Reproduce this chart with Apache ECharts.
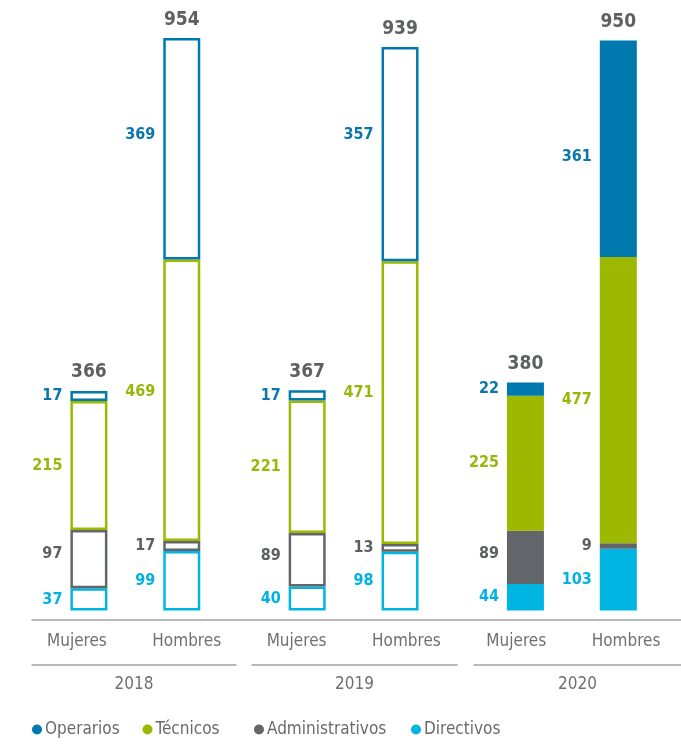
<!DOCTYPE html>
<html>
<head>
<meta charset="utf-8">
<script src="https://cdn.jsdelivr.net/npm/echarts@6/dist/echarts.min.js"></script>
<style>
  html, body { margin: 0; padding: 0; background: #fff; }
  #chart { width: 681px; height: 745px; }
</style>
</head>
<body>
<div id="chart"></div>
<script>
var years = ['2018', '2019', '2020'];
var genders = ['Mujeres', 'Hombres'];
var categories = ['Operarios', 'Técnicos', 'Administrativos', 'Directivos'];

// values per year (2018, 2019, 2020)
var operariosM = [17, 17, 22];
var operariosH = [369, 357, 361];
var tecnicosM = [215, 221, 225];
var tecnicosH = [469, 471, 477];
var adminM = [97, 89, 89];
var adminH = [17, 13, 9];
var directivosM = [37, 40, 44];
var directivosH = [99, 98, 103];
var totalM = [366, 367, 380];
var totalH = [954, 939, 950];

// vertical nudges of some value labels (px), as placed in the original
var shiftOperariosH = [-14, -19, 8];
var shiftTecnicosH = [-8, -10, 0];
var shiftAdminM = [-5, -4, -4];

var font = "'DejaVu Sans Condensed', 'Liberation Sans', sans-serif";
var barColors = {
  'Operarios': '#0079ae',
  'Técnicos': '#9cb800',
  'Administrativos': '#626569',
  'Directivos': '#00b5e2'
};
var labelColors = {
  'Operarios': '#0a76ab',
  'Técnicos': '#9ab60a',
  'Administrativos': '#5d5f62',
  'Directivos': '#00b2e2'
};
var outlined = [true, true, false];

function stackSeries(name, values, stack, shifts) {
  var c = barColors[name];
  var data = [];
  for (var i = 0; i < values.length; i++) {
    var item = { value: values[i] };
    if (outlined[i]) {
      item.itemStyle = { color: '#fff', borderColor: c, borderWidth: 2.5 };
    }
    if (shifts && shifts[i]) {
      item.label = { offset: [0, shifts[i]] };
    }
    data.push(item);
  }
  return {
    name: name,
    type: 'bar',
    stack: stack,
    barWidth: 37,
    barGap: '151%',
    xAxisIndex: 0,
    yAxisIndex: 0,
    itemStyle: { color: c },
    label: {
      show: true,
      position: 'left',
      distance: 8,
      color: labelColors[name],
      fontFamily: font,
      fontSize: 16,
      fontWeight: 'bold'
    },
    emphasis: { disabled: true },
    data: data
  };
}

function totalSeries(totals, stack) {
  return {
    name: 'total' + stack,
    type: 'bar',
    stack: stack,
    barWidth: 37,
    barGap: '151%',
    silent: true,
    itemStyle: { color: 'rgba(0,0,0,0)' },
    label: {
      show: true,
      position: 'top',
      distance: 9,
      color: '#5f6062',
      fontFamily: font,
      fontSize: 19,
      fontWeight: 'bold',
      formatter: function (p) { return totals[p.dataIndex]; }
    },
    data: [0, 0, 0]
  };
}

var series = [
  stackSeries('Directivos', directivosM, 'M'),
  stackSeries('Directivos', directivosH, 'H'),
  stackSeries('Administrativos', adminM, 'M', shiftAdminM),
  stackSeries('Administrativos', adminH, 'H'),
  stackSeries('Técnicos', tecnicosM, 'M'),
  stackSeries('Técnicos', tecnicosH, 'H', shiftTecnicosH),
  stackSeries('Operarios', operariosM, 'M'),
  stackSeries('Operarios', operariosH, 'H', shiftOperariosH),
  totalSeries(totalM, 'M'),
  totalSeries(totalH, 'H')
];

var genderLabels = [];
for (var y = 0; y < years.length; y++) {
  for (var g = 0; g < genders.length; g++) genderLabels.push(genders[g]);
}

var lineStyle = { color: '#a3a3a3', width: 1.5 };
var yearSegments = [[32, 445], [252, 224], [474, 0]];

var grids = [
  { left: 26.2, right: -10.2, top: 10.5, bottom: 134.5 },   // bars
  { left: 32, right: 0, top: 600, bottom: 125 },            // top axis line
  { left: 22, right: -2, top: 600, bottom: 125 }            // Mujeres / Hombres labels
];
var xAxes = [
  { type: 'category', gridIndex: 0, data: years, show: false },
  { type: 'category', gridIndex: 1, data: [''], axisLine: { lineStyle: lineStyle },
    axisTick: { show: false }, axisLabel: { show: false } },
  { type: 'category', gridIndex: 2, data: genderLabels, axisLine: { show: false },
    axisTick: { show: false },
    axisLabel: { margin: 13, color: '#707070', fontFamily: font, fontSize: 17 } }
];
var yAxes = [
  { type: 'value', gridIndex: 0, min: 0, max: 1000, show: false },
  { type: 'value', gridIndex: 1, show: false },
  { type: 'value', gridIndex: 2, show: false }
];
for (var k = 0; k < years.length; k++) {
  grids.push({ left: yearSegments[k][0], right: yearSegments[k][1], top: 600, bottom: 80.7 });
  xAxes.push({
    type: 'category', gridIndex: 3 + k, data: [years[k]],
    axisLine: { lineStyle: lineStyle },
    axisTick: { show: false },
    axisLabel: { margin: 12, color: '#707070', fontFamily: font, fontSize: 17 }
  });
  yAxes.push({ type: 'value', gridIndex: 3 + k, show: false });
}

// one legend per entry so each sits where the original places it
var legendLefts = [27, 137.5, 249, 406];
var legends = [];
for (var j = 0; j < categories.length; j++) {
  legends.push({
    data: [categories[j]],
    left: legendLefts[j],
    top: 716,
    icon: 'circle',
    itemWidth: 10,
    itemHeight: 10,
    itemGap: 0,
    selectedMode: false,
    textStyle: { color: '#6a6a6a', fontFamily: font, fontSize: 17, padding: [0, 0, 0, -2] }
  });
}

var chart = echarts.init(document.getElementById('chart'));
chart.setOption({
  animation: false,
  grid: grids,
  xAxis: xAxes,
  yAxis: yAxes,
  legend: legends,
  series: series
});
</script>
</body>
</html>
